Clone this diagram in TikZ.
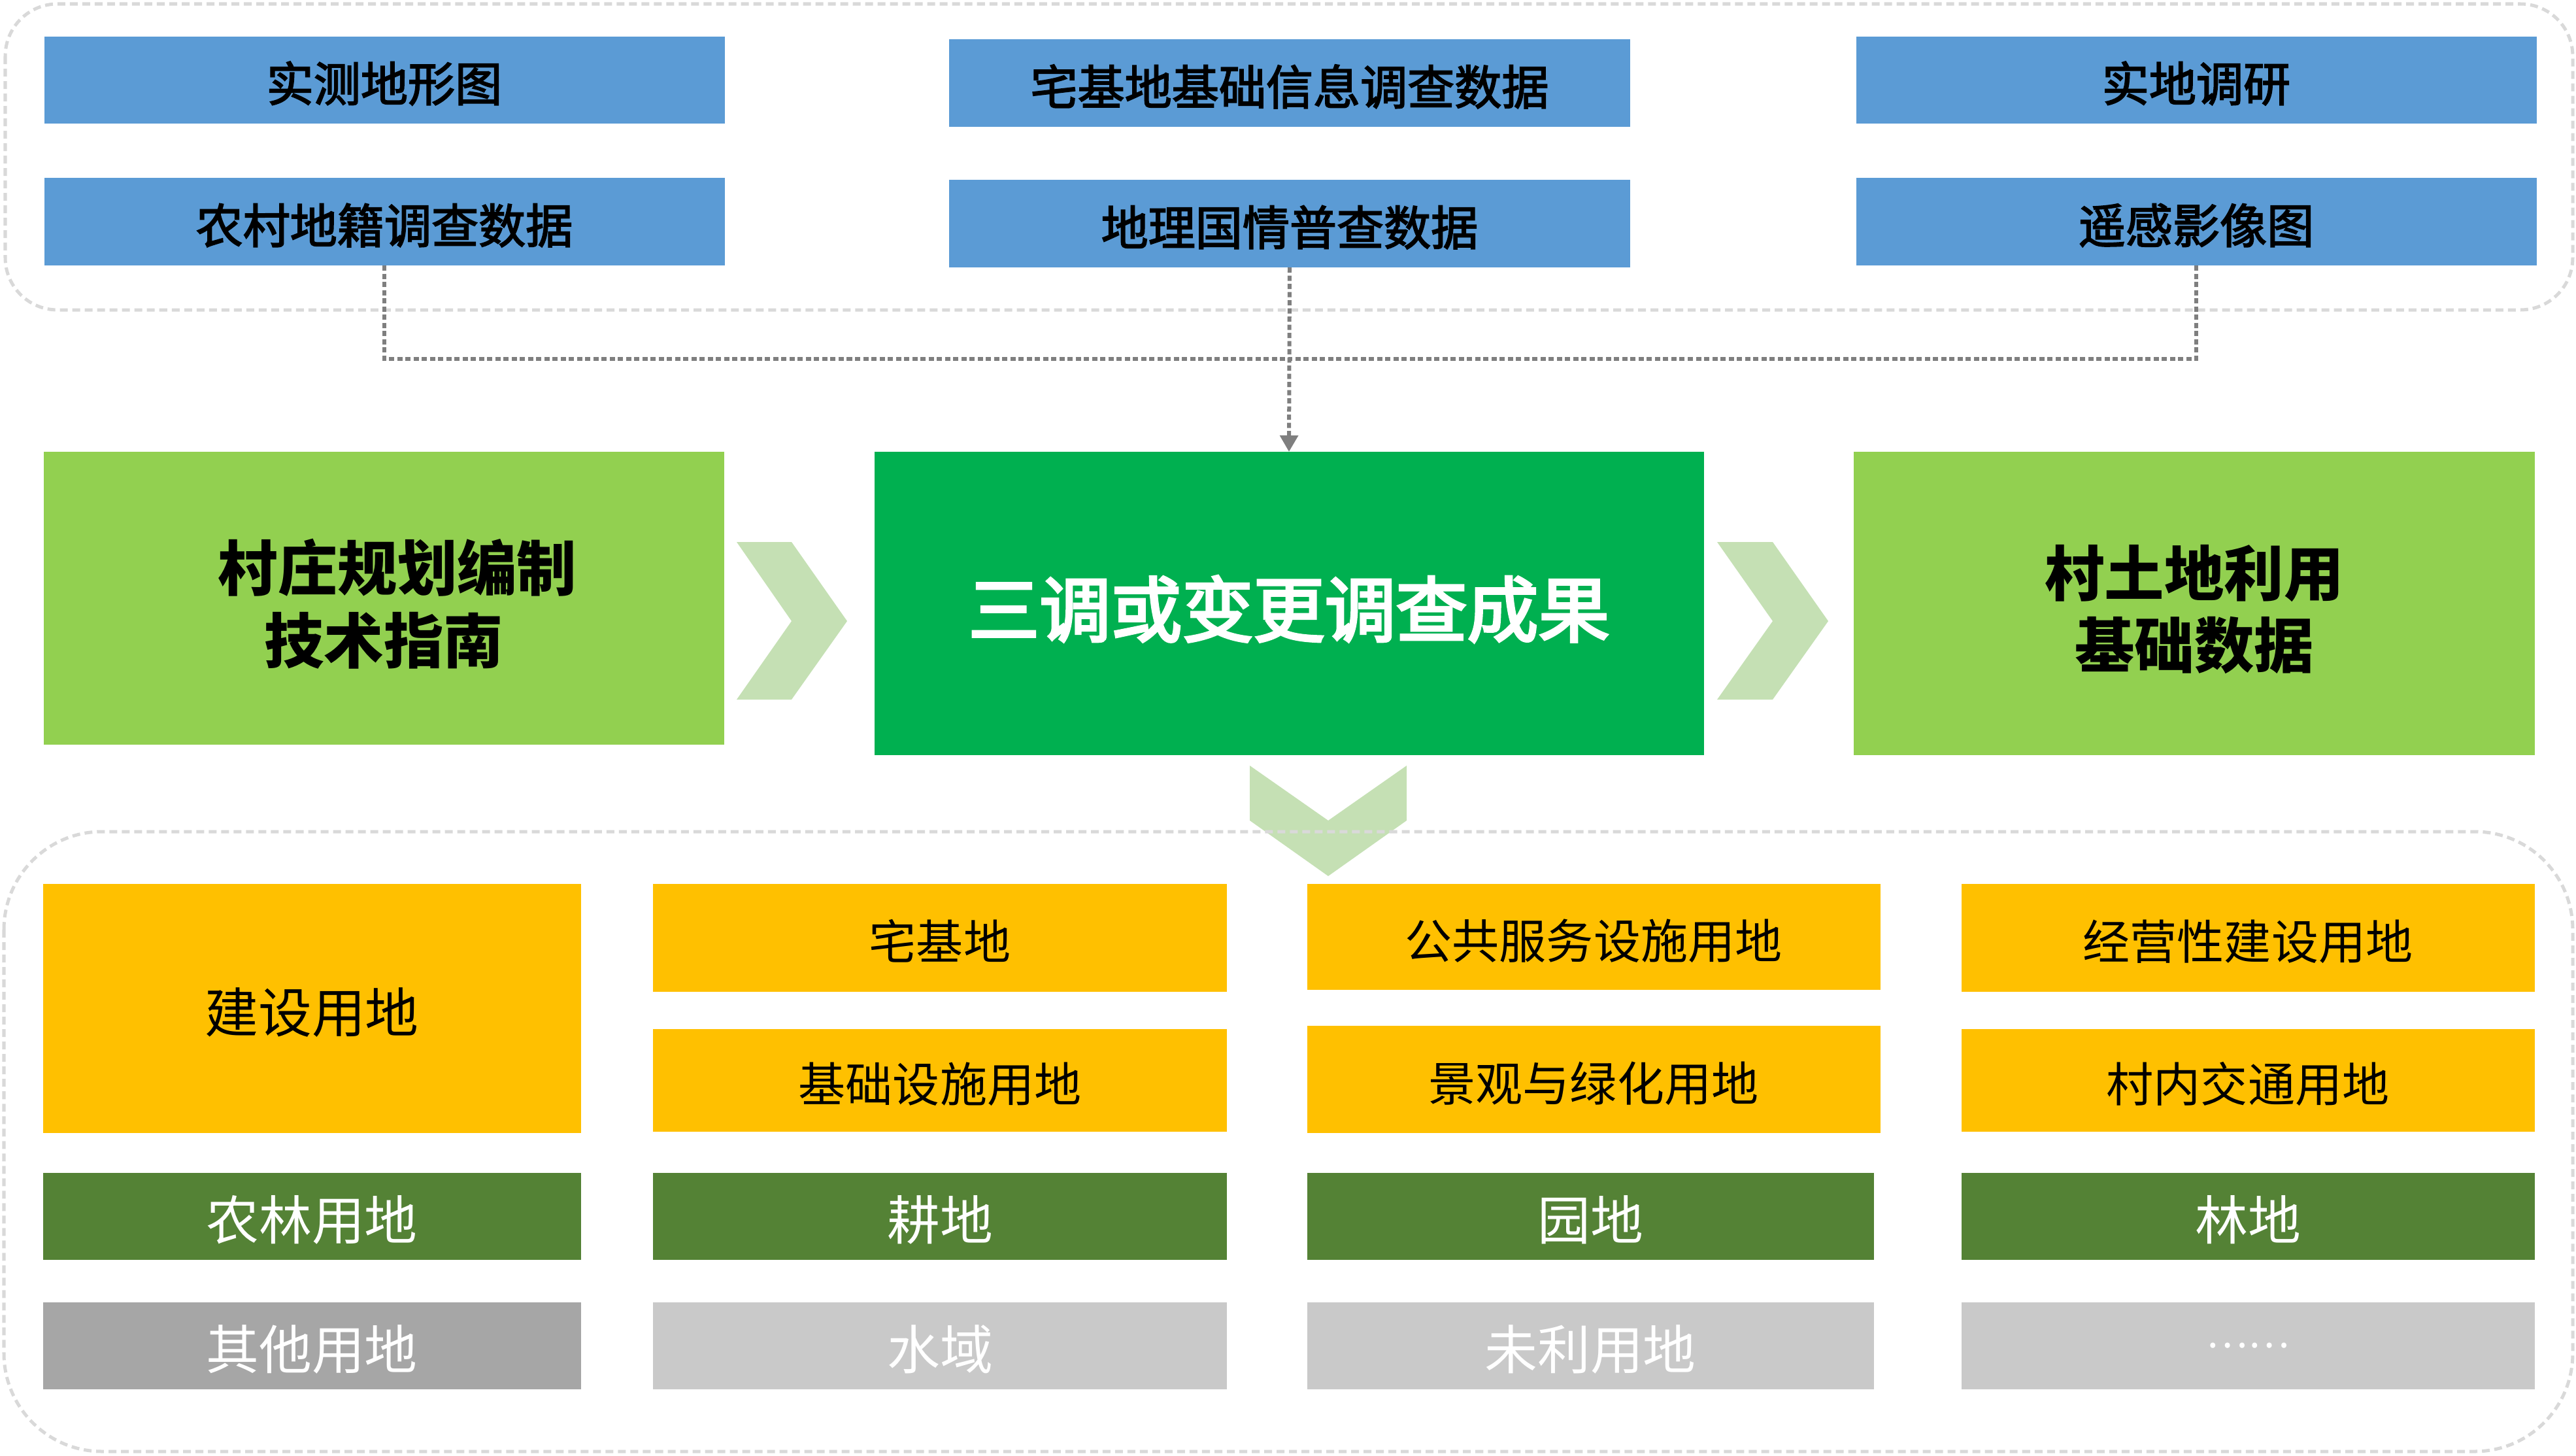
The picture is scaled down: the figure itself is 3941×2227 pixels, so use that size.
\documentclass[tikz,border=0pt]{standalone}
\usepackage{fontspec}
\setmainfont{Noto Sans CJK SC}
\newfontfamily\semib[FakeBold=2.5]{Noto Sans CJK SC}
\newfontfamily\semibb[FakeBold=3.5]{Noto Sans CJK SC}
\usetikzlibrary{arrows.meta}
\definecolor{cblue}{HTML}{5B9BD5}
\definecolor{clgreen}{HTML}{92D050}
\definecolor{cgreen}{HTML}{00B050}
\definecolor{cchev}{HTML}{C5E0B4}
\definecolor{corange}{HTML}{FFC000}
\definecolor{cdgreen}{HTML}{548235}
\definecolor{cgray}{HTML}{A6A6A6}
\definecolor{clgray}{HTML}{C9C9C9}
\definecolor{cdash}{HTML}{D9D9D9}
\definecolor{cconn}{HTML}{7F7F7F}
\tikzset{
  base/.style={rectangle, inner sep=0pt, outer sep=0pt, draw=none, align=center},
  sz/.style n args={2}{minimum width=#1*0.01cm, minimum height=#2*0.01cm},
  bluebox/.style={base, fill=cblue, text=black, text height=18.8pt, text depth=0pt, font=\fontsize{20.5pt}{24pt}\selectfont\semib},
  sidebox/.style={base, fill=clgreen, text=black, font=\fontsize{26pt}{31.5pt}\selectfont\bfseries},
  mainbox/.style={base, fill=cgreen, text=white, text height=28.5pt, text depth=0pt, font=\fontsize{31pt}{36pt}\selectfont\semibb},
  orangebox/.style={base, fill=corange, text=black, text height=18.8pt, text depth=0pt, font=\fontsize{20.5pt}{24pt}\selectfont},
  bigorange/.style={base, fill=corange, text=black, text height=21.4pt, text depth=0pt, font=\fontsize{23.3pt}{27pt}\selectfont},
  dgreenbox/.style={base, fill=cdgreen, text=white, text height=21pt, text depth=0pt, font=\fontsize{23pt}{27pt}\selectfont},
  graybox/.style={base, fill=cgray, text=white, text height=21pt, text depth=0pt, font=\fontsize{23pt}{27pt}\selectfont},
  lgraybox/.style={base, fill=clgray, text=white, text height=21pt, text depth=0pt, font=\fontsize{23pt}{27pt}\selectfont},
  dotsbox/.style={base, fill=clgray, text=white, font=\fontsize{17pt}{20pt}\selectfont},
  chev/.style={fill=cchev, draw=none},
  container/.style={draw=cdash, line width=0.05cm, dash pattern=on 0.12cm off 0.07cm},
  conn/.style={draw=cconn, line width=0.06cm, dash pattern=on 0.08cm off 0.045cm},
}
\newcommand\firststrut{\rule{0pt}{27.3pt}}
\begin{document}
\begin{tikzpicture}[x=0.01cm, y=-0.01cm]
\useasboundingbox (0,0) rectangle (3941,2227);

% top sources
\node[bluebox, sz={1041}{133}] (t1) at (588,122) {实测地形图};
\node[bluebox, sz={1041}{134}] (t2) at (588,339) {农村地籍调查数据};
\node[bluebox, sz={1042}{134}] (m1) at (1973,127) {宅基地基础信息调查数据};
\node[bluebox, sz={1042}{134}] (m2) at (1973,342) {地理国情普查数据};
\node[bluebox, sz={1041}{133}] (r1) at (3360,122) {实地调研};
\node[bluebox, sz={1041}{134}] (r2) at (3360,339) {遥感影像图};

% middle row
\node[sidebox, sz={1041}{448}] (guide) at (587,915) {\firststrut\hspace*{0.42cm}村庄规划编制\\技术指南};
\node[mainbox, sz={1269}{464}] (result) at (1972,923) {三调或变更调查成果};
\node[sidebox, sz={1042}{464}] (base) at (3357,923) {\firststrut 村土地利用\\基础数据};

% chevrons
\fill[chev] (1127,829) -- (1211,829) -- (1296,950) -- (1211,1070) -- (1127,1070) -- (1211,950) -- cycle;
\fill[chev] (2627,829) -- (2712,829) -- (2797,950) -- (2712,1070) -- (2627,1070) -- (2712,950) -- cycle;
\fill[chev] (1912,1171) -- (2032,1255) -- (2152,1171) -- (2152,1255) -- (2032,1340) -- (1912,1255) -- cycle;

% containers
\draw[container, rounded corners=0.8cm] (8,6) rectangle (3936,474);
\draw[container, rounded corners=1.5cm] (6,1272) rectangle (3936,2220);

% connectors
\coordinate (j) at (1973,549);
\draw[conn] (t2.south) |- (j);
\draw[conn] (r2.south) |- (j);
\draw[conn, -{Triangle[width=0.27cm, length=0.25cm]}] (m2.south) -- (result.north);

% bottom grid
\node[bigorange, sz={823}{381}] (c1a) at (477,1542) {建设用地};
\node[dgreenbox, sz={823}{133}] (c1g) at (477,1860) {农林用地};
\node[graybox, sz={823}{133}] (c1o) at (477,2058) {其他用地};

\node[orangebox, sz={878}{165}] (c2a) at (1438,1434) {宅基地};
\node[orangebox, sz={878}{157}] (c2b) at (1438,1652) {基础设施用地};
\node[dgreenbox, sz={878}{133}] (c2g) at (1438,1860) {耕地};
\node[lgraybox, sz={878}{133}] (c2o) at (1438,2058) {水域};

\node[orangebox, sz={877}{162}] (c3a) at (2438,1433) {公共服务设施用地};
\node[orangebox, sz={877}{164}] (c3b) at (2438,1651) {景观与绿化用地};
\node[dgreenbox, sz={867}{133}] (c3g) at (2433,1860) {园地};
\node[lgraybox, sz={867}{133}] (c3o) at (2433,2058) {未利用地};

\node[orangebox, sz={877}{165}] (c4a) at (3439,1434) {经营性建设用地};
\node[orangebox, sz={877}{157}] (c4b) at (3439,1652) {村内交通用地};
\node[dgreenbox, sz={877}{133}] (c4g) at (3439,1860) {林地};
\node[dotsbox, sz={877}{133}] (c4o) at (3439,2058) {……};
\end{tikzpicture}
\end{document}
